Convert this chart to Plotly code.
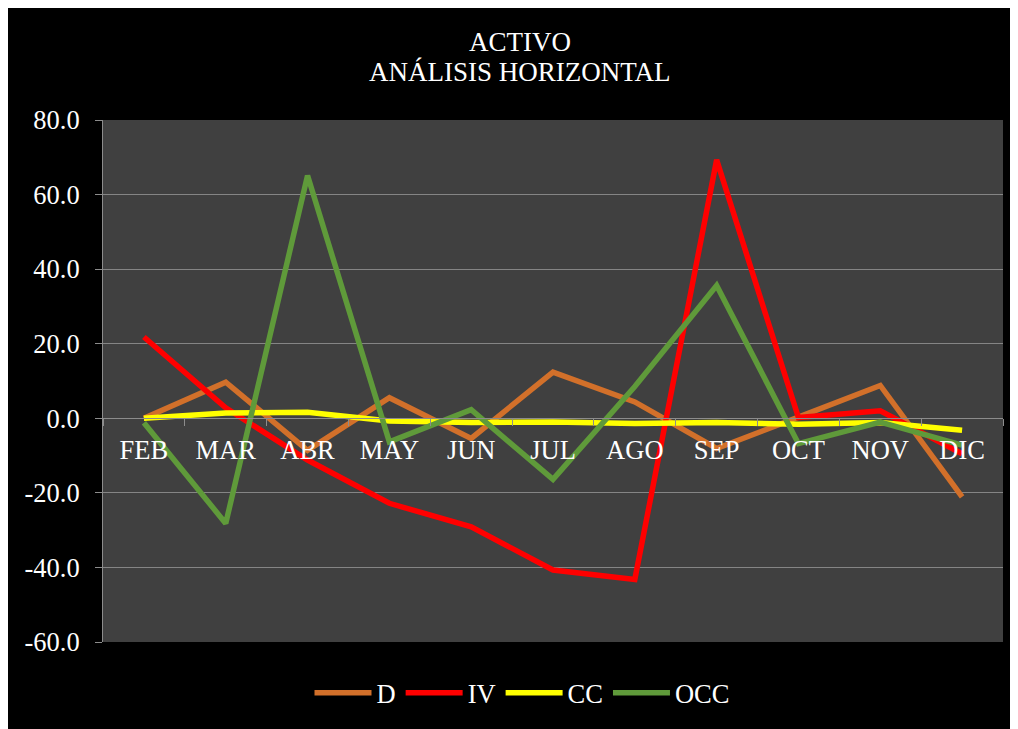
import plotly.graph_objects as go

months = ["FEB", "MAR", "ABR", "MAY", "JUN", "JUL", "AGO", "SEP", "OCT", "NOV", "DIC"]
d_vals = [0.0, 9.7, -8.6, 5.5, -5.4, 12.4, 4.4, -8.1, 0.3, 8.8, -21.1]
iv_vals = [21.8, 2.8, -11.2, -22.8, -29.1, -40.7, -43.2, 69.3, 0.2, 2.0, -9.5]
cc_vals = [0.0, 1.4, 1.6, -0.7, -1.1, -1.0, -1.4, -1.1, -1.6, -1.1, -3.2]
occ_vals = [-1.2, -28.2, 65.1, -6.3, 2.3, -16.4, 8.5, 35.6, -6.8, -1.0, -7.2]

y_tickvals = [-60, -40, -20, 0, 20, 40, 60, 80]
y_ticktext = ["-60.0", "-40.0", "-20.0", "0.0", "20.0", "40.0", "60.0", "80.0"]

series = [
    ("D", d_vals, "#D2702A"),
    ("IV", iv_vals, "#FF0000"),
    ("CC", cc_vals, "#FFFF00"),
    ("OCC", occ_vals, "#5F9A3A"),
]

FONT = "Liberation Serif, Times New Roman, serif"
W, H = 1010, 721
L, R, T, B = 95, 15, 112, 87
pw = W - L - R
ph = H - T - B

fig = go.Figure()
for name, vals, color in series:
    fig.add_trace(go.Scatter(
        x=months, y=vals, name=name, mode="lines",
        line=dict(color=color, width=5.5),
    ))

fig.add_annotation(
    text="ANÁLISIS HORIZONTAL", xref="paper", yref="paper",
    x=(512 - L) / pw, y=1 + (T - 64) / ph, xanchor="center", yanchor="middle",
    showarrow=False, font=dict(family=FONT, size=27, color="white"),
)

fig.update_layout(
    width=W, height=H,
    margin=dict(l=L, r=R, t=T, b=B),
    paper_bgcolor="black",
    plot_bgcolor="#404040",
    font=dict(family=FONT, color="white", size=26.5),
    title=dict(
        text="ACTIVO",
        x=512 / W, xref="container", xanchor="center",
        y=1 - 34 / H, yref="container", yanchor="middle",
        font=dict(family=FONT, size=27, color="white"),
    ),
    xaxis=dict(
        type="category", range=[-0.5, 10.5],
        anchor="free", position=60 / 140,
        showline=True, linecolor="#8c8c8c", linewidth=1,
        ticks="outside", tickson="boundaries", ticklen=7, tickcolor="#8c8c8c",
        showgrid=False, zeroline=False,
        tickfont=dict(family=FONT, size=26.5, color="white"),
        ticklabelstandoff=8,
    ),
    yaxis=dict(
        range=[-60, 80], tickmode="array", tickvals=y_tickvals, ticktext=y_ticktext,
        showgrid=True, gridcolor="#858585", gridwidth=1,
        showline=True, linecolor="#8c8c8c", linewidth=1,
        ticks="outside", ticklen=7, tickcolor="#8c8c8c",
        zeroline=False,
        tickfont=dict(family=FONT, size=26.5, color="white"),
        ticklabelstandoff=10,
    ),
    legend=dict(
        orientation="h", x=(514 - L) / pw, xanchor="center",
        y=(634 - 685) / ph, yanchor="middle",
        font=dict(family=FONT, size=26.5, color="white"),
        bgcolor="rgba(0,0,0,0)",
        itemwidth=57,
    ),
    showlegend=True,
)

fig.write_html("out.html")
